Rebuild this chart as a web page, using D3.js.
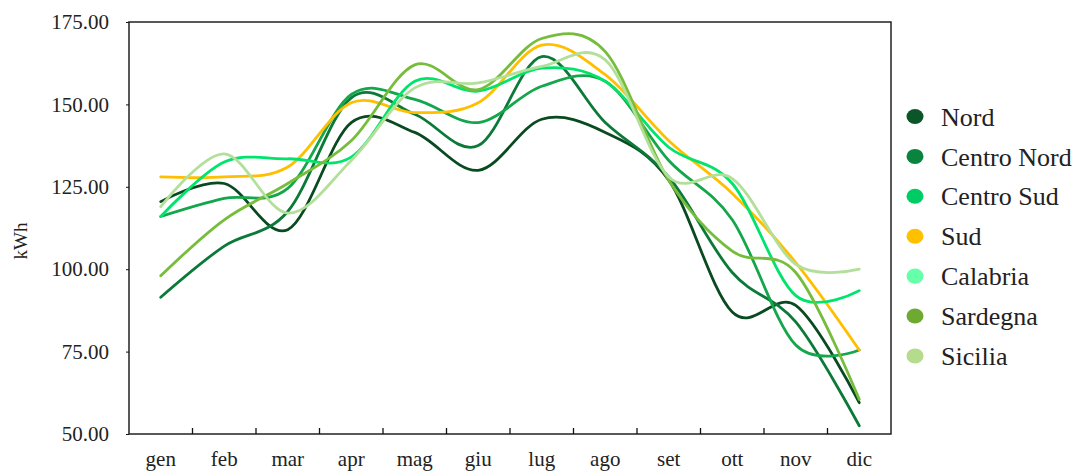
<!DOCTYPE html>
<html lang="it">
<head>
    <meta charset="UTF-8">
    <title>kWh mensili per zona</title>
    <script src="https://cdn.jsdelivr.net/npm/d3@7"></script>
    <style>
        body { margin: 0; background: #fff; }
        svg text { font-family: "Liberation Serif", "Times New Roman", serif !important; fill: #222; }
        .axis path, .axis line { stroke: #111; }
        .frame { fill: none; stroke: #222; stroke-width: 1.5px; }
        path.serie { fill: none; stroke-width: 2.8px; stroke-linecap: round; }
    </style>
</head>
<body>
<svg id="canvas" width="1081" height="473"></svg>
<script>
    // mesi sull'asse x
    const mesi = ["gen", "feb", "mar", "apr", "mag", "giu", "lug", "ago", "set", "ott", "nov", "dic"];
    const zone = ["Nord", "Centro Nord", "Centro Sud", "Sud", "Calabria", "Sardegna", "Sicilia"];
    const yTicks = [50, 75, 100, 125, 150, 175];

    // valori (kWh)
    const nord       = [120.5, 126, 112, 144.5, 141.5, 130, 145.5, 141.5, 127, 87, 89, 59.5];
    const centroNord = [91.5, 107, 117.5, 152, 147, 137.5, 164.5, 144.5, 128, 99, 84, 52.5];
    const centroSud  = [116, 121.5, 124.5, 153, 151.5, 144.5, 155.5, 157, 133, 115, 77, 75.5];
    const sud        = [128, 128, 131, 150.5, 147.5, 150.5, 168, 159, 139, 123, 102, 75.5];
    const calabria   = [116, 132.5, 133.5, 134, 157, 154, 161, 157, 137, 126, 92, 93.5];
    const sardegna   = [98, 115, 126, 139, 162, 154.5, 170, 166, 127, 105.5, 99, 60.5];
    const sicilia    = [119, 135, 117, 133, 155, 156.5, 161.5, 163.5, 128, 127.5, 101.5, 100];

    const serie = [nord, centroNord, centroSud, sud, calabria, sardegna, sicilia];

    // colori: linee e pallini della legenda
    const lineColors = ["#0a4a20", "#0b7a38", "#14a64a", "#ffbf00", "#00e46c", "#76bd3c", "#b2e09a"];
    const dotColors  = ["#0b5528", "#08843e", "#00cc66", "#ffc000", "#66ffaa", "#6eaa32", "#b4dc8c"];

    const serif = "'Liberation Serif', 'Times New Roman', serif";
    const svg = d3.select("svg");
    const mLeft = 129, mRight = 891, mTop = 22, mBottom = 434;

    const x = d3.scaleBand().domain(mesi).range([mLeft, mRight]);
    const y = d3.scaleLinear().domain([50, 175]).range([mBottom, mTop]);

    // riquadro del grafico
    svg.append("rect").attr("class", "frame")
        .attr("x", mLeft).attr("y", mTop)
        .attr("width", mRight - mLeft).attr("height", mBottom - mTop);

    // asse y
    const yAxis = svg.append("g").attr("class", "axis")
        .attr("transform", `translate(${mLeft},0)`)
        .call(d3.axisLeft(y).tickValues(yTicks).tickFormat(d3.format(".2f")).tickSize(3).tickPadding(17))
        .attr("font-family", serif).attr("font-size", 21);
    yAxis.select(".domain").remove();
    yAxis.selectAll("text").style("fill", "#222");

    // asse x: tacche tra le categorie, verso l'interno
    const xAxis = svg.append("g").attr("class", "axis")
        .attr("transform", `translate(0,${mBottom})`)
        .call(d3.axisBottom(x).tickSize(0).tickPadding(17))
        .attr("font-family", serif).attr("font-size", 21);
    xAxis.select(".domain").remove();
    xAxis.selectAll("text").style("fill", "#222");
    xAxis.selectAll("line.sep")
        .data(mesi.slice(1))
        .enter().append("line")
        .attr("class", "sep")
        .attr("x1", d => x(d)).attr("x2", d => x(d))
        .attr("y1", 0).attr("y2", -6)
        .attr("stroke", "#111").attr("stroke-width", 1.3);

    // etichetta asse y
    svg.append("text")
        .attr("transform", "translate(27,241) rotate(-90)")
        .attr("text-anchor", "middle")
        .style("font-size", "19px")
        .text("kWh");

    // linee lisciate (simile allo smoothing di Excel)
    const line = d3.line()
        .x((d, i) => x(mesi[i]) + x.bandwidth() / 2)
        .y(d => y(d))
        .curve(d3.curveCardinal.tension(0));

    svg.append("g").selectAll("path")
        .data(serie)
        .enter().append("path")
        .attr("class", "serie")
        .attr("stroke", (d, i) => lineColors[i])
        .attr("d", line);

    // legenda
    const leg = svg.append("g").selectAll("g")
        .data(zone)
        .enter().append("g")
        .attr("transform", (d, i) => `translate(915,${116.5 + i * 39.9})`);
    leg.append("ellipse").attr("rx", 8.5).attr("ry", 7.5)
        .attr("fill", (d, i) => dotColors[i]);
    leg.append("text")
        .attr("x", 26).attr("dy", "0.35em")
        .style("font-size", "26px")
        .text(d => d);
</script>
</body>
</html>
